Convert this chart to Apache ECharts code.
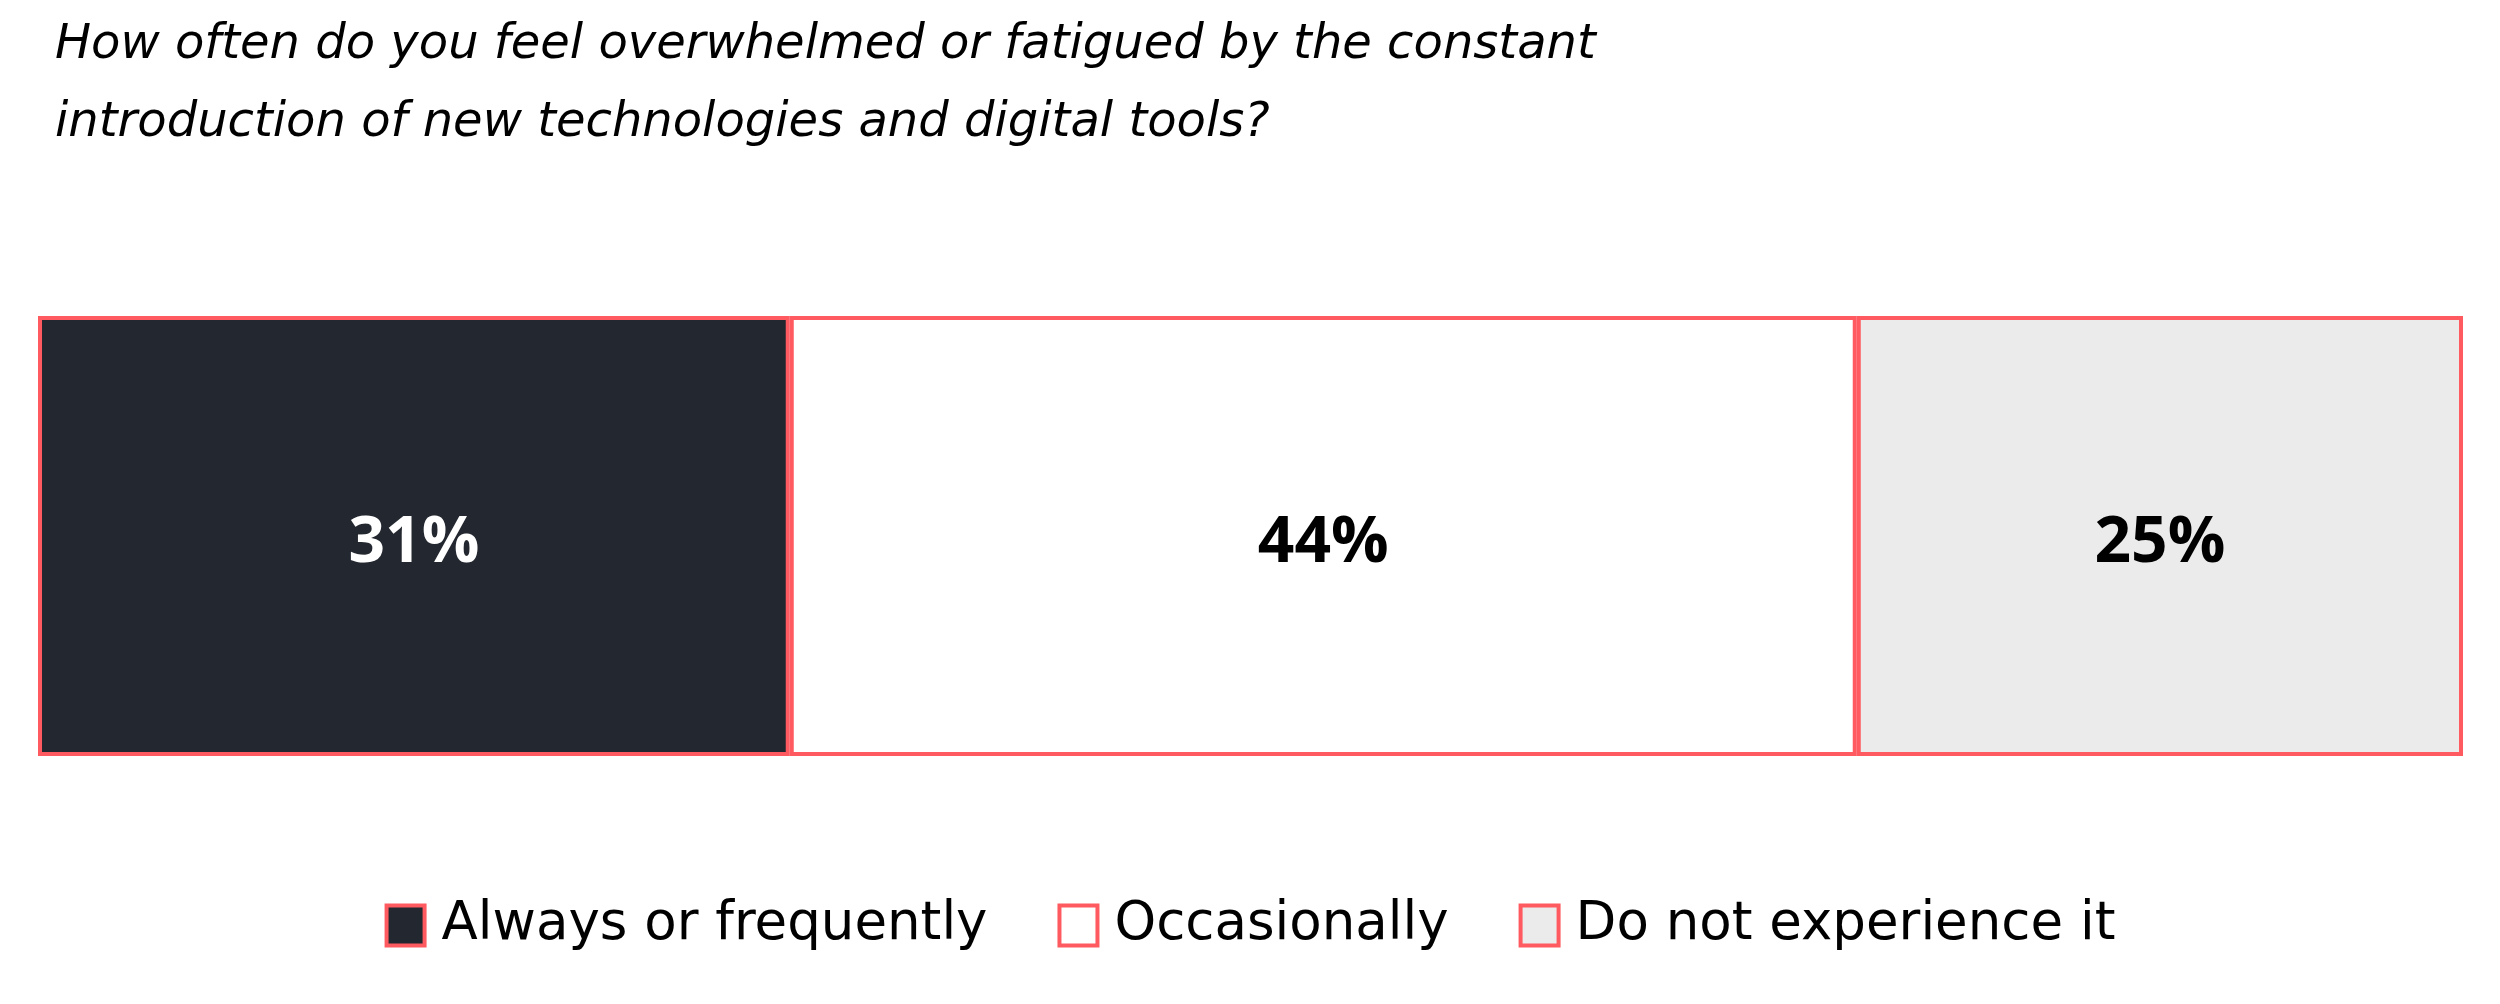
<!DOCTYPE html>
<html>
<head>
<meta charset="utf-8">
<script src="https://cdn.jsdelivr.net/npm/echarts@6/dist/echarts.min.js"></script>
<style>
  html, body { margin: 0; padding: 0; background: #fff; }
  #main { width: 2500px; height: 1004px; }
</style>
</head>
<body>
<div id="main"></div>
<script>
// survey answers
var categories = ["Always or frequently", "Occasionally", "Do not experience it"];
var shares = [31, 44, 25];
var fillColors = ["#23272f", "#ffffff", "#ebebeb"];
var labelColors = ["#ffffff", "#000000", "#000000"];
var questionText = "How often do you feel overwhelmed or fatigued by the constant\nintroduction of new technologies and digital tools?";

var redLine = "#ff5a5f";
var wideFont = "'DejaVu Sans', sans-serif";
var boldFont = "'Open Sans', sans-serif";

var seriesList = [];
for (var i = 0; i < categories.length; i++) {
	seriesList.push({
		name: categories[i],
		type: 'bar',
		stack: 'total',
		barWidth: '100%',
		data: [shares[i]],
		itemStyle: {
			color: fillColors[i],
			borderColor: redLine,
			borderWidth: 4
		},
		label: {
			show: true,
			position: 'inside',
			formatter: '{c}%',
			offset: [0, 8],
			color: labelColors[i],
			fontFamily: boldFont,
			fontWeight: 'bold',
			fontSize: 64
		},
		emphasis: { disabled: true }
	});
}

var option = {
	animation: false,
	backgroundColor: '#ffffff',
	title: {
		text: questionText,
		left: 50,
		top: 2,
		textStyle: {
			fontFamily: wideFont,
			fontStyle: 'italic',
			fontWeight: 'normal',
			fontSize: 48,
			lineHeight: 78,
			color: '#000000'
		}
	},
	legend: {
		data: categories,
		left: 'center',
		top: 894,
		icon: 'rect',
		itemWidth: 38,
		itemHeight: 40,
		itemGap: 70,
		itemStyle: {
			borderColor: redLine,
			borderWidth: 4
		},
		textStyle: {
			fontFamily: wideFont,
			fontSize: 53,
			color: '#000000',
			padding: [0, 0, 0, 12]
		}
	},
	grid: {
		left: 38,
		right: 37,
		top: 316,
		bottom: 248
	},
	xAxis: {
		type: 'value',
		min: 0,
		max: 100,
		show: false
	},
	yAxis: {
		type: 'category',
		data: ['answer'],
		show: false
	},
	series: seriesList
};

var surveyChart = echarts.init(document.getElementById("main"));
surveyChart.setOption(option);
</script>
</body>
</html>
